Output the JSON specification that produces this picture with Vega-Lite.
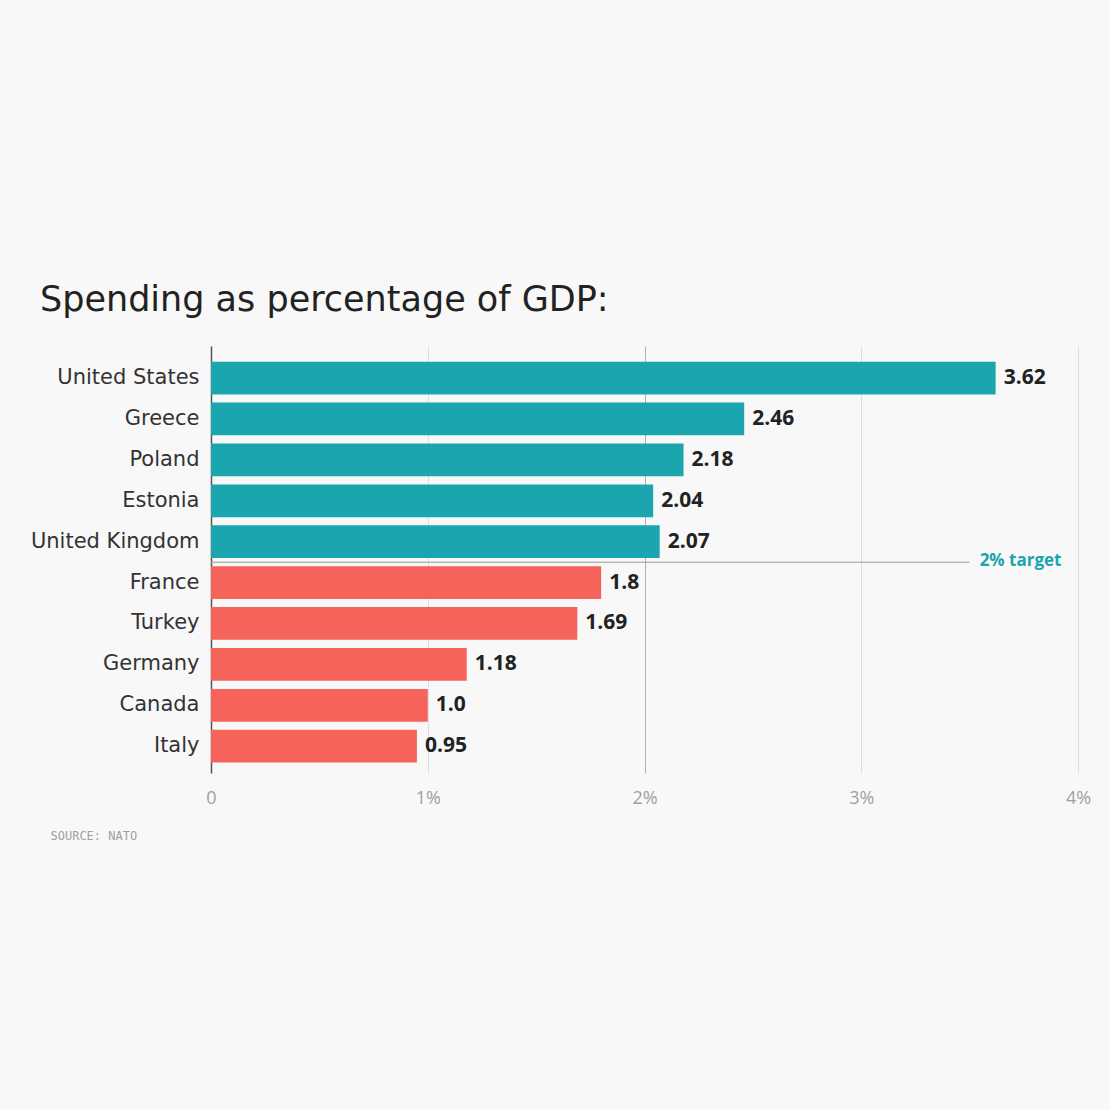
{
  "$schema": "https://vega.github.io/schema/vega-lite/v6.json",
  "width": 867,
  "height": 427,
  "autosize": {"type": "none"},
  "padding": {"left": 211, "top": 346, "right": 32, "bottom": 337},
  "background": "#f8f8f8",
  "title": {
    "text": "Spending as percentage of GDP:",
    "anchor": "start",
    "frame": "group",
    "dx": -171,
    "offset": 0,
    "baseline": "alphabetic",
    "font": "DejaVu Sans",
    "fontSize": 35,
    "fontWeight": "normal",
    "color": "#222222"
  },
  "config": {
    "view": {"stroke": null},
    "font": "Open Sans"
  },
  "data": {
    "values": [
      {"country": "United States", "value": 3.62, "label": "3.62", "status": "above"},
      {"country": "Greece", "value": 2.46, "label": "2.46", "status": "above"},
      {"country": "Poland", "value": 2.18, "label": "2.18", "status": "above"},
      {"country": "Estonia", "value": 2.04, "label": "2.04", "status": "above"},
      {"country": "United Kingdom", "value": 2.07, "label": "2.07", "status": "above"},
      {"country": "France", "value": 1.8, "label": "1.8", "status": "below"},
      {"country": "Turkey", "value": 1.69, "label": "1.69", "status": "below"},
      {"country": "Germany", "value": 1.18, "label": "1.18", "status": "below"},
      {"country": "Canada", "value": 1.0, "label": "1.0", "status": "below"},
      {"country": "Italy", "value": 0.95, "label": "0.95", "status": "below"}
    ]
  },
  "encoding": {
    "y": {
      "field": "country",
      "type": "nominal",
      "sort": null,
      "scale": {"paddingInner": 0.2, "paddingOuter": 0.32, "align": 0.6},
      "axis": {
        "title": null,
        "ticks": false,
        "domain": true,
        "domainColor": "#555555",
        "domainWidth": 1.5,
        "labelFont": "DejaVu Sans",
        "labelFontSize": 21,
        "labelColor": "#333333",
        "labelPadding": 12,
        "grid": false
      }
    }
  },
  "layer": [
    {
      "mark": {"type": "bar"},
      "encoding": {
        "x": {
          "field": "value",
          "type": "quantitative",
          "scale": {"domain": [0, 4], "nice": false},
          "axis": {
            "title": "SOURCE: NATO",
            "titleX": -161,
            "titleY": 62,
            "titleAlign": "left",
            "titleBaseline": "middle",
            "titleAnchor": null,
            "titleFont": "DejaVu Sans Mono",
            "titleFontSize": 12,
            "titleFontWeight": "normal",
            "titleColor": "#a0a0a0",
            "values": [0, 1, 2, 3, 4],
            "labelExpr": "datum.value === 0 ? '0' : datum.value + '%'",
            "labelFont": "Open Sans",
            "labelFontSize": 18,
            "labelColor": "#a0a0a0",
            "labelPadding": 16,
            "labelFlush": false,
            "domain": false,
            "ticks": false,
            "grid": true,
            "gridColor": {"condition": {"test": "datum.value === 2", "value": "#b0b0b0"}, "value": "#dddddd"},
            "gridWidth": 1
          }
        },
        "color": {
          "field": "status",
          "type": "nominal",
          "scale": {"domain": ["above", "below"], "range": ["#1aa5af", "#f6635a"]},
          "legend": null
        }
      }
    },
    {
      "mark": {"type": "text", "align": "left", "baseline": "middle", "dx": 8, "font": "Open Sans", "fontSize": 21, "fontWeight": "bold", "color": "#222222"},
      "encoding": {
        "x": {"field": "value", "type": "quantitative"},
        "text": {"field": "label", "type": "nominal"}
      }
    },
    {
      "data": {"values": [{"country": "France", "start": 0, "end": 3.5, "note": "2% target"}]},
      "mark": {"type": "rule", "color": "#999999", "strokeWidth": 1, "yOffset": -4},
      "encoding": {
        "y": {"field": "country", "type": "nominal", "sort": null, "bandPosition": 0},
        "x": {"field": "start", "type": "quantitative"},
        "x2": {"field": "end"}
      }
    },
    {
      "data": {"values": [{"country": "France", "end": 3.5, "note": "2% target"}]},
      "mark": {"type": "text", "align": "left", "baseline": "middle", "dx": 10, "yOffset": -5, "font": "Open Sans", "fontSize": 17, "fontWeight": "bold", "color": "#1aa5af"},
      "encoding": {
        "y": {"field": "country", "type": "nominal", "sort": null, "bandPosition": 0},
        "x": {"field": "end", "type": "quantitative"},
        "text": {"field": "note", "type": "nominal"}
      }
    }
  ]
}
